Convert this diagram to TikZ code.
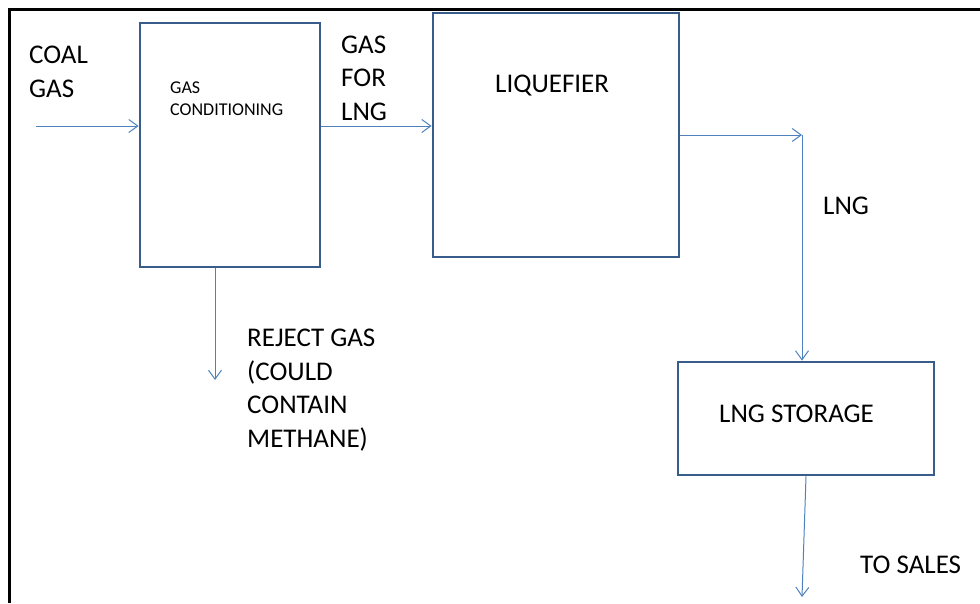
\documentclass[tikz,border=0pt]{standalone}
\usepackage{fontspec}
\setmainfont{Carlito}
\usetikzlibrary{arrows.meta}
\definecolor{boxblue}{HTML}{385D8A}
\definecolor{flowblue}{HTML}{4F81BD}
\begin{document}
\begin{tikzpicture}[x=1pt,y=-1pt,
  unit/.style={draw=boxblue,line width=2.8pt,inner sep=0pt},
  flow/.style={draw=flowblue,line width=1pt,-{Straight Barb[length=9pt,width=13pt,line width=1pt]}},
  lbl/.style={anchor=base west,inner sep=0pt,align=left,font=\fontsize{27}{33.5}\selectfont},
  small/.style={anchor=base west,inner sep=0pt,align=left,font=\fontsize{18}{22}\selectfont}]
\useasboundingbox (0,0) rectangle (980,603);
% frame
\draw[line width=3pt] (9,603) -- (9,9) -- (980,9);
% units
\node[unit,minimum width=180pt,minimum height=244pt] (gc) at (230,145) {};
\node[unit,minimum width=246pt,minimum height=244pt] (liq) at (556,135) {};
\node[unit,minimum width=256pt,minimum height=113pt] (st) at (806,418.5) {};
% labels (anchored at the baseline of their last line)
\node[small] (gctext) at (170,115) {GAS\\CONDITIONING};
\node[lbl] (liqtext) at (495,92) {LIQUEFIER};
\node[lbl] (sttext) at (719,422) {LNG STORAGE};
\node[lbl] (coal) at (29,97) {COAL\\GAS};
\node[lbl] (gfl) at (341,120) {GAS\\FOR\\LNG};
\node[lbl] (lng) at (823,214) {LNG};
\node[lbl] (rej) at (247,447) {REJECT GAS\\(COULD\\CONTAIN\\METHANE)};
\node[lbl] (sales) at (860,573) {TO SALES};
% connectors
\coordinate (in) at (36,126);
\coordinate (corner) at (802,135);
\coordinate (rejend) at (215,380);
\coordinate (salesend) at (802,597);
\draw[flow] (in) -- (in -| gc.west);
\draw[flow] (gc.east |- in) -- (liq.west |- in);
\draw[flow] (liq.east) -- (corner);
\draw[flow] (corner) -- (corner |- st.north);
\draw[flow] (rejend |- gc.south) -- (rejend);
\draw[flow] (st.south) -- (salesend);
\end{tikzpicture}
\end{document}
